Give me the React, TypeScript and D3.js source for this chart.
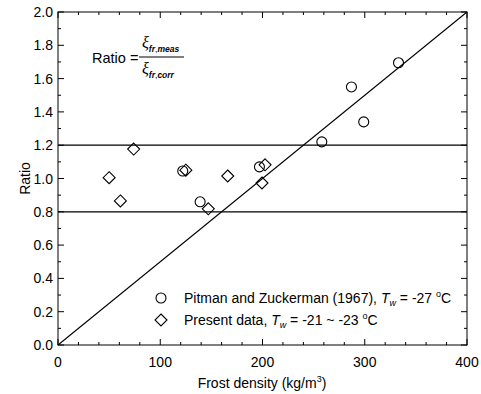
import React from "react";
import * as d3 from "d3";

const pitmanX = [122, 139, 197, 258, 287, 299, 333];
const pitmanY = [1.045, 0.86, 1.07, 1.22, 1.55, 1.34, 1.695];
const presentX = [50, 61, 74, 125, 147, 166, 199.5, 202.5];
const presentY = [1.005, 0.865, 1.177, 1.05, 0.818, 1.015, 0.973, 1.082];
const xTicks = [0, 100, 200, 300, 400];
const yTicks = [0, 0.2, 0.4, 0.6, 0.8, 1.0, 1.2, 1.4, 1.6, 1.8, 2.0];
const refLines = [0.8, 1.2];
const diagonal = [[0, 0], [400, 2.0]];

const W = 481, H = 394;
const L = 58, R = 467, T = 12, B = 345;
const font = "'Liberation Sans', Arial, sans-serif";
const serif = "'Liberation Serif', 'Times New Roman', serif";

export default function App() {
  const x = d3.scaleLinear().domain([0, 400]).range([L, R]);
  const y = d3.scaleLinear().domain([0, 2]).range([B, T]);
  const xMinor = d3.range(0, 401, 20).filter(v => v % 100 !== 0);
  const yMinor = d3.range(0, 21, 1).map(v => v / 10).filter((v, i) => i % 2 === 1);
  const line = d3.line<number[]>().x(d => x(d[0])).y(d => y(d[1]));
  const diamond = (cx: number, cy: number, r = 6) =>
    `M${cx},${cy - r}L${cx + r},${cy}L${cx},${cy + r}L${cx - r},${cy}Z`;
  const stroke = "#000";
  return (
    <svg width={W} height={H} style={{ position: "absolute", left: 0, top: 0 }}>
      <rect width={W} height={H} fill="#fff" />
      <rect x={L} y={T} width={R - L} height={B - T} fill="none" stroke={stroke} strokeWidth={1} />
      {xTicks.map(v => (
        <g key={"xt" + v}>
          <line x1={x(v)} x2={x(v)} y1={B} y2={B - 6} stroke={stroke} />
          <line x1={x(v)} x2={x(v)} y1={T} y2={T + 6} stroke={stroke} />
          <text x={x(v)} y={B + 21.5} fontFamily={font} fontSize={14} textAnchor="middle">{v}</text>
        </g>
      ))}
      {xMinor.map(v => (
        <g key={"xm" + v}>
          <line x1={x(v)} x2={x(v)} y1={B} y2={B - 3} stroke={stroke} />
          <line x1={x(v)} x2={x(v)} y1={T} y2={T + 3} stroke={stroke} />
        </g>
      ))}
      {yTicks.map(v => (
        <g key={"yt" + v}>
          <line x1={L} x2={L + 6} y1={y(v)} y2={y(v)} stroke={stroke} />
          <line x1={R} x2={R - 6} y1={y(v)} y2={y(v)} stroke={stroke} />
          <text x={L - 5} y={y(v) + 5} fontFamily={font} fontSize={14} textAnchor="end">{v.toFixed(1)}</text>
        </g>
      ))}
      {yMinor.map(v => (
        <g key={"ym" + v}>
          <line x1={L} x2={L + 3} y1={y(v)} y2={y(v)} stroke={stroke} />
          <line x1={R} x2={R - 3} y1={y(v)} y2={y(v)} stroke={stroke} />
        </g>
      ))}
      {refLines.map(v => (
        <line key={"rl" + v} x1={L} x2={R} y1={y(v)} y2={y(v)} stroke={stroke} strokeWidth={1.2} />
      ))}
      <path d={line(diagonal as any) || ""} fill="none" stroke={stroke} strokeWidth={1.1} />
      {pitmanX.map((v, i) => (
        <circle key={"p" + i} cx={x(v)} cy={y(pitmanY[i])} r={5} fill="none" stroke={stroke} strokeWidth={1.1} />
      ))}
      {presentX.map((v, i) => (
        <path key={"d" + i} d={diamond(x(v), y(presentY[i]))} fill="none" stroke={stroke} strokeWidth={1.1} />
      ))}
      {/* legend */}
      <circle cx={161} cy={298} r={5} fill="none" stroke={stroke} strokeWidth={1.1} />
      <text x={184} y={303} fontFamily={font} fontSize={14}>
        Pitman and Zuckerman (1967), <tspan fontStyle="italic">T</tspan>
        <tspan fontStyle="italic" fontSize={9} dy={3}>w</tspan>
        <tspan dy={-3}> = -27 </tspan>
        <tspan fontSize={9} dy={-6}>o</tspan>
        <tspan dy={6}>C</tspan>
      </text>
      <path d={diamond(161, 320)} fill="none" stroke={stroke} strokeWidth={1.1} />
      <text x={184} y={325} fontFamily={font} fontSize={14}>
        Present data, <tspan fontStyle="italic">T</tspan>
        <tspan fontStyle="italic" fontSize={9} dy={3}>w</tspan>
        <tspan dy={-3}> = -21 ~ -23 </tspan>
        <tspan fontSize={9} dy={-6}>o</tspan>
        <tspan dy={6}>C</tspan>
      </text>
      {/* formula */}
      <text x={92} y={62.5} fontFamily={font} fontSize={14.5}>Ratio =</text>
      <line x1={139} x2={184} y1={57} y2={57} stroke={stroke} strokeWidth={1} />
      <text x={142} y={48} fontFamily={serif} fontSize={16} fontStyle="italic">ξ
        <tspan fontFamily={font} fontSize={8.5} fontWeight="bold" dy={4}>fr</tspan>
        <tspan fontFamily={font} fontSize={8.5} fontStyle="normal">,</tspan>
        <tspan fontFamily={font} fontSize={8.5} fontWeight="bold">meas</tspan>
      </text>
      <text x={142} y={74} fontFamily={serif} fontSize={16} fontStyle="italic">ξ
        <tspan fontFamily={font} fontSize={8.5} fontWeight="bold" dy={4}>fr</tspan>
        <tspan fontFamily={font} fontSize={8.5} fontStyle="normal">,</tspan>
        <tspan fontFamily={font} fontSize={8.5} fontWeight="bold">corr</tspan>
      </text>
      {/* axis titles */}
      <text x={262} y={388} fontFamily={font} fontSize={14} textAnchor="middle">
        Frost density (kg/m<tspan fontSize={9} dy={-6}>3</tspan><tspan dy={6}>)</tspan>
      </text>
      <text transform={`translate(30,${(T + B) / 2}) rotate(-90)`} fontFamily={font} fontSize={14} textAnchor="middle">Ratio</text>
    </svg>
  );
}
